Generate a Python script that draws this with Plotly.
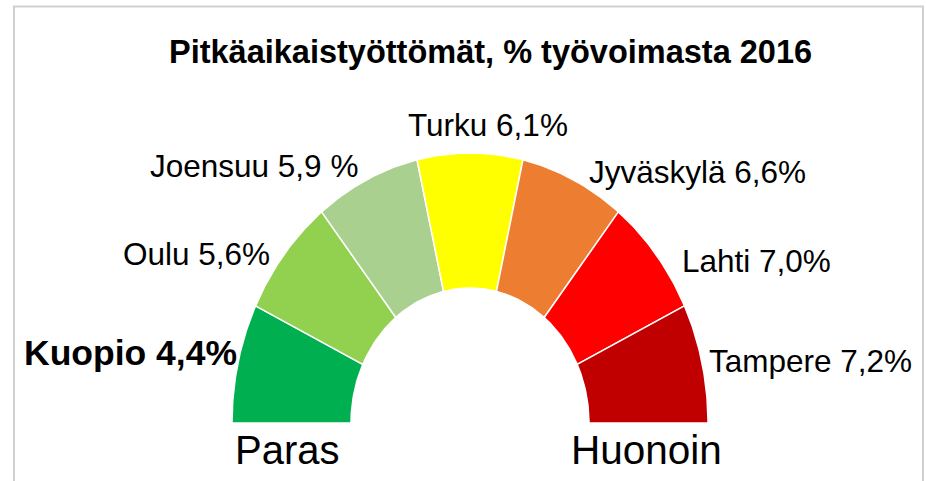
import math
import plotly.graph_objects as go

# ---- data ----
cities = ["Kuopio", "Oulu", "Joensuu", "Turku", "Jyväskylä", "Lahti", "Tampere"]
rates = [4.4, 5.6, 5.9, 6.1, 6.6, 7.0, 7.2]
label_texts = ["Kuopio 4,4%", "Oulu 5,6%", "Joensuu 5,9 %", "Turku 6,1%",
               "Jyväskylä 6,6%", "Lahti 7,0%", "Tampere 7,2%"]
segment_share = [1, 1, 1, 1, 1, 1, 1]
colors = ["#00B050", "#92D050", "#A9D08E", "#FFFF00", "#ED7D31", "#FF0000", "#C00000"]
title_text = "Pitkäaikaistyöttömät, % työvoimasta 2016"
end_labels = ["Paras", "Huonoin"]

# ---- layout constants (pixels) ----
W, H = 926, 481
CX, CY = 470, 423          # gauge centre in pixels (from top-left)
RX, RY = 238, 270          # outer radii in pixels
HOLE = 0.5
FONT = "Liberation Sans, Arial, sans-serif"

fig = go.Figure()

total = sum(segment_share)
start = 0.0
for i, share in enumerate(segment_share):
    a0 = math.pi * (1 - start / total)
    a1 = math.pi * (1 - (start + share) / total)
    start += share
    n = 40
    outer = [a0 + (a1 - a0) * k / n for k in range(n + 1)]
    xs = [math.cos(a) for a in outer] + [HOLE * math.cos(a) for a in reversed(outer)]
    ys = [math.sin(a) for a in outer] + [HOLE * math.sin(a) for a in reversed(outer)]
    xs.append(xs[0]); ys.append(ys[0])
    fig.add_trace(go.Scatter(
        x=xs, y=ys, mode="lines", fill="toself", fillcolor=colors[i],
        line=dict(color="white", width=1.5), name=cities[i],
        hoverinfo="text", text=label_texts[i], showlegend=False))

# label placement (pixel positions) and anchors
label_pos = [(239, 353, "right"), (272, 254, "right"), (360, 166, "right"),
             (488, 125, "center"), (587, 172, "left"), (680, 261, "left"),
             (707, 361, "left")]

for i, txt in enumerate(label_texts):
    px, py, anc = label_pos[i]
    bold = i == 0
    fig.add_annotation(
        x=px / W, y=1 - py / H, xref="paper", yref="paper",
        text=f"<b>{txt}</b>" if bold else txt, showarrow=False,
        xanchor=anc, yanchor="middle",
        font=dict(family=FONT, size=35.5 if bold else 31.5, color="black"))

fig.add_annotation(x=287 / W, y=1 - 450 / H, xref="paper", yref="paper",
                   text=end_labels[0], showarrow=False, xanchor="center", yanchor="middle",
                   font=dict(family=FONT, size=40, color="black"))
fig.add_annotation(x=646 / W, y=1 - 450 / H, xref="paper", yref="paper",
                   text=end_labels[1], showarrow=False, xanchor="center", yanchor="middle",
                   font=dict(family=FONT, size=40.5, color="black"))

fig.add_annotation(x=490 / W, y=1 - 52 / H, xref="paper", yref="paper",
                   text=f"<b>{title_text}</b>", showarrow=False,
                   xanchor="center", yanchor="middle",
                   font=dict(family=FONT, size=32.5, color="black"))

# chart border
fig.add_shape(type="rect", xref="paper", yref="paper",
              x0=14 / W, x1=923 / W, y0=1 - 500 / H, y1=1 - 6.5 / H,
              line=dict(color="#D0D0D0", width=2), fillcolor="rgba(0,0,0,0)")

fig.update_xaxes(visible=False, range=[-CX / RX, (W - CX) / RX], fixedrange=True)
fig.update_yaxes(visible=False, range=[-(H - CY) / RY, CY / RY], fixedrange=True)
fig.update_layout(width=W, height=H, margin=dict(l=0, r=0, t=0, b=0),
                  plot_bgcolor="white", paper_bgcolor="white", showlegend=False)

fig.write_html("out.html", config={"displayModeBar": False},
               post_script="document.body.style.margin='0';")
